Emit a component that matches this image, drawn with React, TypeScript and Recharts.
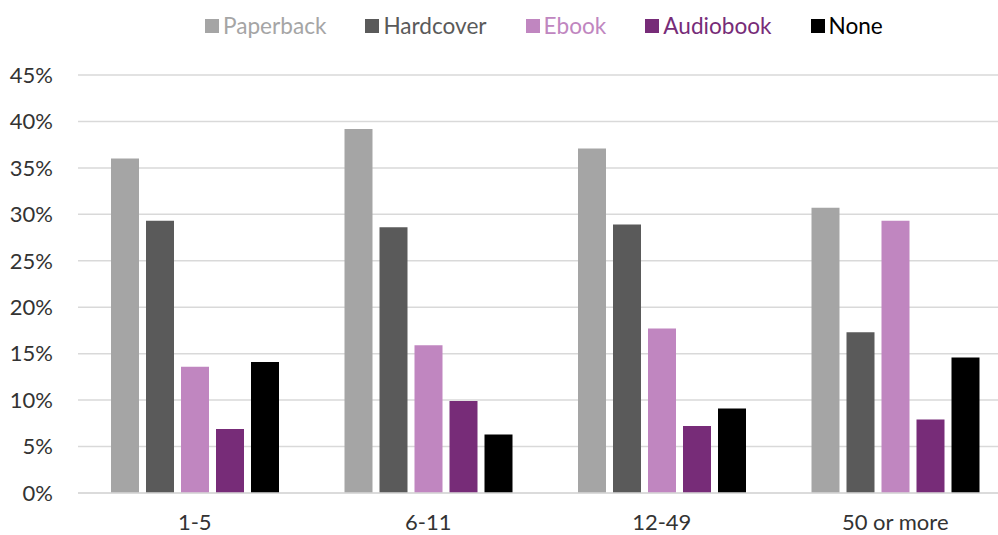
import React from "react";
import {
  BarChart,
  Bar,
  XAxis,
  YAxis,
  CartesianGrid,
  Legend,
} from "recharts";

const CATEGORIES = ["1-5", "6-11", "12-49", "50 or more"];
const PAPERBACK = [36.0, 39.2, 37.1, 30.7];
const HARDCOVER = [29.3, 28.6, 28.9, 17.3];
const EBOOK = [13.6, 15.9, 17.7, 29.3];
const AUDIOBOOK = [6.9, 9.9, 7.2, 7.9];
const NONE = [14.1, 6.3, 9.1, 14.6];
const Y_TICKS = [0, 5, 10, 15, 20, 25, 30, 35, 40, 45];

const SERIES = [
  { key: "Paperback", color: "#a5a5a5" },
  { key: "Hardcover", color: "#5a5a5a" },
  { key: "Ebook", color: "#c086c0" },
  { key: "Audiobook", color: "#772c78" },
  { key: "None", color: "#000000" },
];

const data = CATEGORIES.map((group, i) => ({
  group,
  Paperback: PAPERBACK[i],
  Hardcover: HARDCOVER[i],
  Ebook: EBOOK[i],
  Audiobook: AUDIOBOOK[i],
  None: NONE[i],
}));

const FONT = "Lato, 'Noto Sans', sans-serif";

// legend row: colored square + label in the series color
const LegendRow = () => (
  <div
    style={{
      height: 75,
      display: "flex",
      justifyContent: "flex-start",
      alignItems: "flex-start",
      paddingTop: 12,
      paddingLeft: 205,
      boxSizing: "border-box",
      fontFamily: FONT,
      fontSize: 22.6,
      gap: 39,
    }}
  >
    {SERIES.map((s) => (
      <div key={s.key} style={{ display: "flex", alignItems: "center", lineHeight: "28px" }}>
        <span
          style={{
            width: 14,
            height: 14,
            background: s.color,
            marginRight: 4,
            display: "inline-block",
          }}
        />
        <span style={{ color: s.color }}>{s.key}</span>
      </div>
    ))}
  </div>
);

export default function App() {
  return (
    <div
      style={{
        position: "fixed",
        left: 0,
        top: 0,
        width: 998,
        height: 535,
        overflow: "hidden",
        background: "#fff",
      }}
    >
      <BarChart
        width={1012}
        height={535}
        data={data}
        margin={{ top: 0, right: 0, bottom: 0, left: 0 }}
        barSize={28}
        barGap={7}
      >
        <CartesianGrid vertical={false} stroke="#d9d9d9" strokeWidth={1.5} />
        <XAxis
          dataKey="group"
          height={42}
          axisLine={{ stroke: "#d9d9d9", strokeWidth: 1.5 }}
          tickLine={false}
          tickSize={0}
          tickMargin={21}
          tick={{ fill: "#333", fontSize: 22, fontFamily: FONT }}
        />
        <YAxis
          width={78}
          domain={[0, 45]}
          ticks={Y_TICKS}
          interval={0}
          axisLine={false}
          tickLine={false}
          tickSize={0}
          tickMargin={25}
          tickFormatter={(v: number) => `${v}%`}
          tick={{ fill: "#333", fontSize: 22, fontFamily: FONT }}
        />
        <Legend verticalAlign="top" content={() => <LegendRow />} />
        {SERIES.map((s) => (
          <Bar key={s.key} dataKey={s.key} fill={s.color} isAnimationActive={false} />
        ))}
      </BarChart>
    </div>
  );
}
